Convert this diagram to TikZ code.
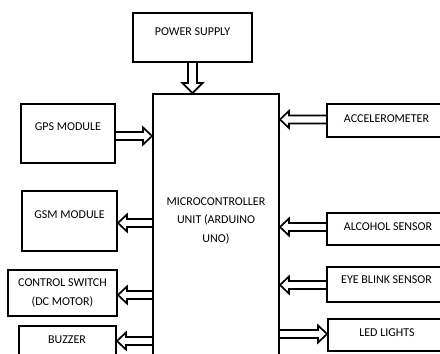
\documentclass[tikz,border=0pt]{standalone}
\usepackage{fontspec}
\setmainfont{Carlito}
\usetikzlibrary{calc}
\tikzset{
  box/.style={draw, line width=1.9pt, rectangle, inner sep=0pt},
  lbl/.style={inner sep=0pt, align=center, font=\fontsize{12}{18.5}\selectfont},
  barrow/.style={draw, line width=1.7pt, line join=miter, to path={
    ($(\tikztostart)!4pt!90:(\tikztotarget)$)
    -- ($(\tikztotarget)!9pt!(\tikztostart)!4pt!90:(\tikztotarget)$)
    -- ($(\tikztotarget)!9pt!(\tikztostart)!8.5pt!90:(\tikztotarget)$)
    -- (\tikztotarget)
    -- ($(\tikztotarget)!9pt!(\tikztostart)!8.5pt!-90:(\tikztotarget)$)
    -- ($(\tikztotarget)!9pt!(\tikztostart)!4pt!-90:(\tikztotarget)$)
    -- ($(\tikztostart)!4pt!-90:(\tikztotarget)$)}},
  varrow/.style={draw, line width=1.7pt, line join=miter, to path={
    ($(\tikztostart)!4.5pt!90:(\tikztotarget)$)
    -- ($(\tikztotarget)!10pt!(\tikztostart)!4.5pt!90:(\tikztotarget)$)
    -- ($(\tikztotarget)!10pt!(\tikztostart)!10pt!90:(\tikztotarget)$)
    -- (\tikztotarget)
    -- ($(\tikztotarget)!10pt!(\tikztostart)!10pt!-90:(\tikztotarget)$)
    -- ($(\tikztotarget)!10pt!(\tikztostart)!4.5pt!-90:(\tikztotarget)$)
    -- ($(\tikztostart)!4.5pt!-90:(\tikztotarget)$)}}
}
\begin{document}
\begin{tikzpicture}[x=1pt,y=-1pt]
\useasboundingbox (0,0) rectangle (440,354);
\clip (0,0) rectangle (440,354);
% boxes
\node[box, minimum width=119pt, minimum height=49pt] (ps)  at (192.5,37.5) {};
\node[box, minimum width=126pt, minimum height=276pt] (mcu) at (216,232) {};
\node[box, minimum width=94pt,  minimum height=59pt] (gps) at (68,133.5) {};
\node[box, minimum width=95pt,  minimum height=60pt] (gsm) at (69.5,221) {};
\node[box, minimum width=109pt, minimum height=46pt] (sw)  at (62.5,293) {};
\node[box, minimum width=97pt,  minimum height=44pt] (bz)  at (67.5,348) {};
\node[box, minimum width=133pt, minimum height=33pt] (acc) at (393.5,120.5) {};
\node[box, minimum width=133pt, minimum height=32pt] (alc) at (393.5,229) {};
\node[box, minimum width=133pt, minimum height=35pt] (eye) at (393.5,284.5) {};
\node[box, minimum width=132pt, minimum height=32pt] (led) at (394,335) {};
% labels
\node[lbl] (tps)  at (192.5,31.5) {POWER SUPPLY};
\node[lbl] (tmcu) at (216,220.5) {MICROCONTROLLER\\UNIT (ARDUINO\\UNO)};
\node[lbl] (tgps) at (68,127) {GPS MODULE};
\node[lbl] (tgsm) at (69.5,214.5) {GSM MODULE};
\node[lbl] (tsw)  at (62.5,293) {CONTROL SWITCH\\(DC MOTOR)};
\node[lbl] (tbz)  at (67,340) {BUZZER};
\node[lbl] (tacc) at (386.5,119) {ACCELEROMETER};
\node[lbl] (talc) at (388,226.5) {ALCOHOL SENSOR};
\node[lbl] (teye) at (386.5,280) {EYE BLINK SENSOR};
\node[lbl] (tled) at (387,333) {LED LIGHTS};
% arrows
\draw[varrow] (ps.south) to (mcu.north -| ps.south);
\draw[barrow] (gps.east |- 0,136) to (mcu.west |- 0,136);
\draw[barrow] (mcu.west |- 0,223) to (gsm.east |- 0,223);
\draw[barrow] (mcu.west |- 0,295) to (sw.east |- 0,295);
\draw[barrow] (mcu.west |- 0,341) to (bz.east |- 0,341);
\draw[barrow] (acc.west |- 0,119.5) to (mcu.east |- 0,119.5);
\draw[barrow] (alc.west |- 0,227) to (mcu.east |- 0,227);
\draw[barrow] (eye.west |- 0,285) to (mcu.east |- 0,285);
\draw[barrow] (mcu.east |- 0,334) to (led.west |- 0,334);
\end{tikzpicture}
\end{document}
